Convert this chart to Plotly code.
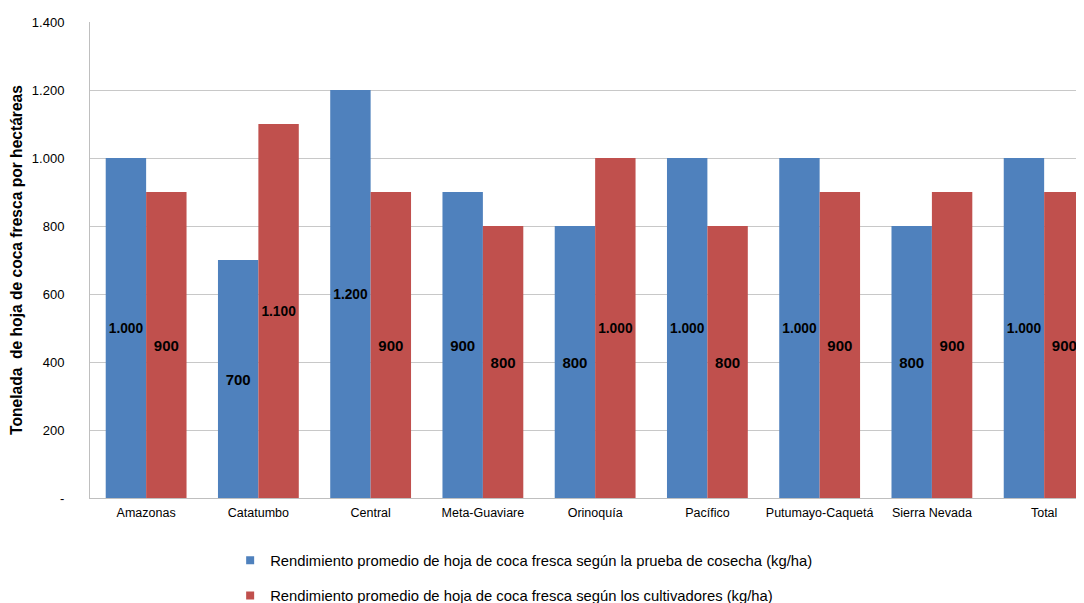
import plotly.graph_objects as go

categories = ["Amazonas", "Catatumbo", "Central", "Meta-Guaviare", "Orinoquía",
              "Pacífico", "Putumayo-Caquetá", "Sierra Nevada", "Total"]
prueba_cosecha = [1000, 700, 1200, 900, 800, 1000, 1000, 800, 1000]
cultivadores = [900, 1100, 900, 800, 1000, 800, 900, 900, 900]
tick_vals = [0, 200, 400, 600, 800, 1000, 1200, 1400]
tick_text = ["-", "200", "400", "600", "800", "1.000", "1.200", "1.400"]

name1 = "Rendimiento promedio de hoja de coca fresca según la prueba de cosecha (kg/ha)"
name2 = "Rendimiento promedio de hoja de coca fresca según los cultivadores (kg/ha)"

font_family = "Liberation Sans, Arial, sans-serif"
blue = "#4F81BD"
red = "#C0504D"

fig = go.Figure()
for name, vals, color, grp in [(name1, prueba_cosecha, blue, "a"), (name2, cultivadores, red, "b")]:
    fig.add_trace(go.Bar(
        x=categories, y=vals, name=name, legendgroup=grp, showlegend=False,
        marker=dict(color=color, line=dict(width=0)),
        texttemplate="%{y:,}", textposition="inside", insidetextanchor="middle",
        textangle=0,
        textfont=dict(family=font_family, size=15, color="#000000", weight="bold"),
    ))
# legend-only entries with small square swatches
for name, color, grp in [(name1, blue, "a"), (name2, red, "b")]:
    fig.add_trace(go.Scatter(
        x=[None], y=[None], mode="markers", name=name, legendgroup=grp,
        marker=dict(symbol="square", size=8, color=color),
    ))

fig.update_layout(
    width=1076, height=595,
    barmode="group", bargap=0.28, bargroupgap=0,
    separators=",.",
    paper_bgcolor="white", plot_bgcolor="white",
    font=dict(family=font_family, size=12, color="#000000"),
    margin=dict(l=82, r=0, t=14, b=105, autoexpand=False),
    showlegend=True,
    legend=dict(
        orientation="v", x=0.141, xanchor="left", y=-0.097, yanchor="top",
        font=dict(family=font_family, size=14.8, color="#000000"),
        tracegroupgap=13, itemwidth=30, bgcolor="rgba(0,0,0,0)",
    ),
    xaxis=dict(
        range=[-0.5, 8.355],
        showgrid=False, showline=True, linecolor="#BFBFBF", linewidth=1,
        ticks="", tickfont=dict(size=12.5), fixedrange=True, automargin=False,
        ticklabelstandoff=3,
    ),
    yaxis=dict(
        range=[0, 1400], tickvals=tick_vals, ticktext=tick_text,
        showgrid=True, gridcolor="#C8C8C8", gridwidth=1,
        showline=True, linecolor="#BFBFBF", linewidth=1,
        zeroline=False, ticks="", ticklabelstandoff=22, automargin=False,
        tickfont=dict(size=13),
        title=dict(text="<b>Tonelada  de hoja de coca fresca por hectáreas</b>",
                   font=dict(size=15.6), standoff=14),
    ),
)

fig.write_html("out.html")
